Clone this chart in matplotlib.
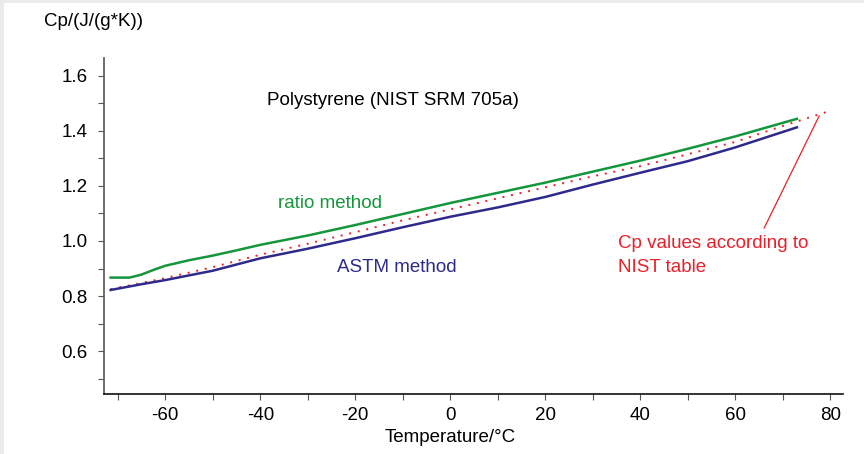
import numpy as np
import matplotlib.pyplot as plt
from matplotlib.patches import Rectangle
from matplotlib.ticker import MultipleLocator

plt.rcParams['font.family'] = ['Liberation Sans', 'DejaVu Sans']
plt.rcParams['axes.unicode_minus'] = False

# ratio method (green)
t_ratio = [-71.5, -67.5, -65, -62, -60, -55, -50, -45, -40, -30, -20, -10, 0, 10, 20, 30, 40, 50, 60, 73]
cp_ratio = [0.867, 0.867, 0.878, 0.898, 0.910, 0.930, 0.947, 0.966, 0.986, 1.020, 1.058, 1.098, 1.138, 1.175, 1.212, 1.252, 1.292, 1.335, 1.380, 1.444]

# ASTM method (blue)
t_astm = [-71.5, -65, -60, -50, -40, -30, -20, -10, 0, 10, 20, 30, 40, 50, 60, 73]
cp_astm = [0.822, 0.843, 0.858, 0.892, 0.937, 0.972, 1.010, 1.050, 1.088, 1.122, 1.160, 1.205, 1.248, 1.290, 1.340, 1.413]

# NIST table values (red dotted)
t_nist = [-71.5, -60, -50, -40, -30, -20, -10, 0, 10, 20, 30, 40, 50, 60, 70, 80]
cp_nist = [0.825, 0.865, 0.905, 0.950, 0.990, 1.032, 1.075, 1.115, 1.155, 1.195, 1.235, 1.272, 1.315, 1.360, 1.418, 1.473]

green = '#14963c'
blue = '#2d2a8c'
red = '#e8202a'
fs = 13.5

fig = plt.figure(figsize=(8.64, 4.54), dpi=100, facecolor='#ebebeb')
fig.patches.append(Rectangle((4/864, 0), 1, 1 - 3/454, transform=fig.transFigure,
                             facecolor='white', edgecolor='none', zorder=-10))

ax = fig.add_axes([104/864, 60/454, 739/864, 336/454])
ax.set_facecolor('none')

ax.plot(t_nist, cp_nist, color=red, lw=1.4, linestyle=(0, (1, 3.5)), zorder=2)
ax.plot(t_astm, cp_astm, color=blue, lw=1.8, zorder=3)
ax.plot(t_ratio, cp_ratio, color=green, lw=1.8, zorder=3)

ax.set_xlim(-72.9, 82.7)
ax.set_ylim(0.444, 1.665)

for s in ['top', 'right']:
    ax.spines[s].set_visible(False)
ax.spines['left'].set_color('#555555')
ax.spines['bottom'].set_color('#111111')
ax.spines['left'].set_linewidth(1.2)
ax.spines['bottom'].set_linewidth(1.2)

ax.xaxis.set_major_locator(MultipleLocator(20))
ax.xaxis.set_minor_locator(MultipleLocator(10))
ax.yaxis.set_minor_locator(MultipleLocator(0.1))
ax.set_yticks([0.6, 0.8, 1.0, 1.2, 1.4, 1.6])
ax.set_yticklabels(['0.6', '0.8', '1.0', '1.2', '1.4', '1.6'])
ax.tick_params(which='both', direction='out', length=4, width=0.8, color='#555555',
               labelsize=13.5)
ax.tick_params(axis='y', pad=8)
ax.tick_params(axis='x', pad=5)

ax.text(-12, 1.509, 'Polystyrene (NIST SRM 705a)', fontsize=fs, ha='center', va='center')
ax.text(-25.3, 1.138, 'ratio method', fontsize=fs, color=green, ha='center', va='center')
ax.text(-11.2, 0.902, 'ASTM method', fontsize=fs, color=blue, ha='center', va='center')
ax.text(35.3, 1.02, 'Cp values according to\nNIST table', fontsize=fs, color=red,
        ha='left', va='top', linespacing=1.5)
ax.annotate('', xy=(77.7, 1.455), xytext=(66.1, 1.047),
            arrowprops=dict(arrowstyle='-', color=red, lw=0.9, shrinkA=0, shrinkB=0))

ax.text(0, -0.128, 'Temperature/°C', fontsize=fs, ha='center', va='center',
        transform=ax.get_xaxis_transform())
fig.text(44/864, 1 - 22/454, 'Cp/(J/(g*K))', fontsize=fs, ha='left', va='center')

fig.savefig('out.png', dpi=100, facecolor=fig.get_facecolor())
